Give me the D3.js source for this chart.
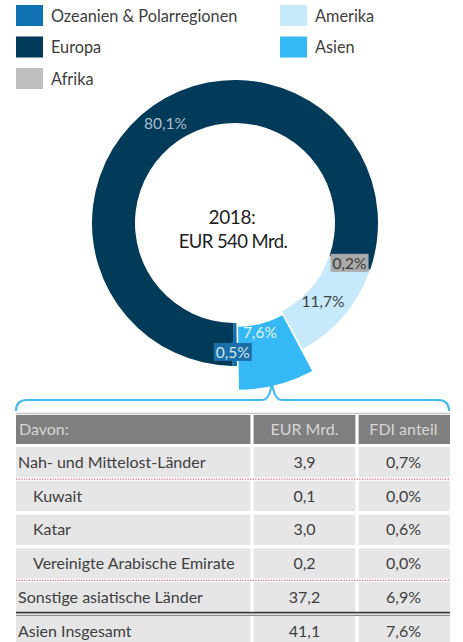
<!DOCTYPE html>
<html>
<head>
<meta charset="utf-8">
<script src="https://cdn.jsdelivr.net/npm/d3@7"></script>
<style>
  body { margin: 0; background: #fff; }
  svg { display: block; }
  text { font-family: Lato, "Open Sans", sans-serif; }
</style>
</head>
<body>
<svg id="chart" width="463" height="642"></svg>
<script>
// Regions in drawing order (clockwise) and their share of the FDI stock, in percent
const regions = ["Ozeanien & Polarregionen", "Europa", "Afrika", "Amerika", "Asien"];
const shares = [0.5, 80.1, 0.2, 11.7, 7.6];
const regionColors = ["#1071b1", "#023a5a", "#bfbfbf", "#c6e9fc", "#35b9f6"];

const totalYear = "2018:";
const totalLabel = "EUR 540 Mrd.";

// Breakdown of Asia
const tableHeader = ["Davon:", "EUR Mrd.", "FDI anteil"];
const rowNames = ["Nah- und Mittelost-Länder", "Kuwait", "Katar", "Vereinigte Arabische Emirate",
                  "Sonstige asiatische Länder", "Asien Insgesamt"];
const rowLevel = [0, 1, 1, 1, 0, 0];
const rowEur = [3.9, 0.1, 3.0, 0.2, 37.2, 41.1];
const rowShare = [0.7, 0.0, 0.6, 0.0, 6.9, 7.6];

const de = d3.formatLocale({ decimal: ",", thousands: ".", grouping: [3], currency: ["", " €"] });
const f1 = de.format(".1f");
const pct = v => f1(v) + "%";

const svg = d3.select("#chart");
const textCol = "#404040";

// ---------- legend (three rows, filled column by column) ----------
const legendX = d3.scaleOrdinal().domain([0, 1]).range([16, 280]);
const legendY = d3.scalePoint().domain([0, 1, 2]).range([5, 68]);
const legend = svg.append("g")
  .selectAll("g")
  .data(regions.map((r, i) => ({ name: r, color: regionColors[i], i })))
  .join("g")
  .attr("transform", d => `translate(${legendX(Math.floor(d.i / 3))},${legendY(d.i % 3)})`);
legend.append("rect").attr("width", 27).attr("height", 21).attr("fill", d => d.color);
legend.append("text")
  .attr("x", 35).attr("y", 11).attr("dy", "0.35em")
  .attr("fill", textCol).style("font-size", "16.3px")
  .text(d => d.name);

// ---------- brace pointing at Asia (drawn first so the slice sits on its tip) ----------
const tableLeft = 16, tableRight = 450;
const tipX = 272, braceY = 400;
svg.append("path")
  .attr("d", `M${tableLeft},${braceY + 11} Q${tableLeft},${braceY} ${tableLeft + 11},${braceY}
              L${tipX - 10},${braceY} Q${tipX - 2},${braceY} ${tipX},${braceY - 18}
              Q${tipX + 2},${braceY} ${tipX + 10},${braceY}
              L${tableRight - 12},${braceY} Q${tableRight - 1},${braceY} ${tableRight - 1},${braceY + 11}`)
  .attr("fill", "none").attr("stroke", "#42b7f0").attr("stroke-width", 2.2);

// ---------- donut ----------
const cx = 235, cy = 223, rOuter = 143, rInner = 100;
// the highlighted slice is pulled out and drawn with a wider ring
const focus = "Asien", focusInner = 97, focusOuter = 160, explode = 7;
const startDeg = 179.2;
const pie = d3.pie().sort(null).value(d => d.v)
  .startAngle(startDeg * Math.PI / 180)
  .endAngle(startDeg * Math.PI / 180 + 2 * Math.PI);
const arcs = pie(regions.map((r, i) => ({ name: r, v: shares[i], color: regionColors[i] })));
const arc = d3.arc().innerRadius(rInner).outerRadius(rOuter);
const focusArc = d3.arc().innerRadius(focusInner).outerRadius(focusOuter);
const arcFor = d => d.data.name === focus ? focusArc : arc;

const offsetOf = d => {
  if (d.data.name !== focus) return [0, 0];
  const m = (d.startAngle + d.endAngle) / 2;
  return [Math.sin(m) * explode, -Math.cos(m) * explode];
};

const donut = svg.append("g").attr("transform", `translate(${cx},${cy})`);
donut.selectAll("path")
  .data(arcs)
  .join("path")
  .attr("transform", d => `translate(${offsetOf(d)})`)
  .attr("d", d => arcFor(d)(d))
  .attr("fill", d => d.data.color);

// data labels
const labelStyle = {
  "Europa":   { fill: "#aebfcd", box: null, dx: 0, dy: 0 },
  "Afrika":   { fill: "#3a3a3a", box: "#a9a9a9", dx: 0, dy: 0 },
  "Amerika":  { fill: "#404040", box: null, dx: -4, dy: -1 },
  "Asien":    { fill: "#e3f5ff", box: null, dx: -9, dy: -22 },
  "Ozeanien & Polarregionen": { fill: "#d2e6f3", box: "#1a6fa8", dx: -2, dy: 8 }
};
const labels = donut.selectAll("g.lbl")
  .data(arcs)
  .join("g")
  .attr("class", "lbl")
  .attr("transform", d => {
    const c = arcFor(d).centroid(d), o = offsetOf(d), s = labelStyle[d.data.name];
    return `translate(${c[0] + o[0] + s.dx},${c[1] + o[1] + s.dy})`;
  });
labels.each(function (d) {
  const g = d3.select(this), s = labelStyle[d.data.name];
  const t = g.append("text")
    .attr("text-anchor", "middle").attr("dy", "0.35em")
    .attr("fill", s.fill).style("font-size", "15.5px")
    .text(pct(d.data.v));
  if (s.box) {
    const b = t.node().getBBox();
    g.insert("rect", "text")
      .attr("x", b.x - 2).attr("y", b.y)
      .attr("width", b.width + 4).attr("height", b.height)
      .attr("fill", s.box);
  }
});

// total in the hole
donut.append("text").attr("text-anchor", "middle").attr("x", -3).attr("y", 1)
  .attr("fill", "#1e1e1e").style("font-size", "19px").style("letter-spacing", "-0.4px")
  .text(totalYear);
donut.append("text").attr("text-anchor", "middle").attr("x", -2).attr("y", 24.5)
  .attr("fill", "#1e1e1e").style("font-size", "18.5px").style("letter-spacing", "-0.6px")
  .text(totalLabel);

// ---------- table ----------
const colEdges = [tableLeft, 252, 357, tableRight];
const gap = 3.2;
const rowBand = d3.scaleBand().domain(d3.range(rowNames.length)).range([447, 447 + 6 * 33.2]).paddingInner(0.1);
const table = svg.append("g");

// header
table.append("line").attr("x1", tableLeft).attr("x2", tableRight).attr("y1", 413.5).attr("y2", 413.5)
  .attr("stroke", "#c4c4c4").attr("stroke-width", 1.5);
const headerTop = 415, headerH = 29;
tableHeader.forEach((h, c) => {
  const x0 = colEdges[c] + (c ? gap / 2 : 0), x1 = colEdges[c + 1] - (c < 2 ? gap / 2 : 0);
  table.append("rect").attr("x", x0).attr("y", headerTop).attr("width", x1 - x0).attr("height", headerH)
    .attr("fill", "#7f7f7f");
  table.append("text")
    .attr("x", c === 0 ? tableLeft + 3 : (colEdges[c] + colEdges[c + 1]) / 2)
    .attr("y", headerTop + headerH / 2).attr("dy", "0.35em")
    .attr("text-anchor", c === 0 ? "start" : "middle")
    .attr("fill", "#d6d6d6").style("font-size", "16px")
    .text(h);
});

// body rows
rowNames.forEach((name, i) => {
  const y = rowBand(i), h = rowBand.bandwidth();
  const cells = [name, f1(rowEur[i]), pct(rowShare[i])];
  cells.forEach((v, c) => {
    const x0 = colEdges[c] + (c ? gap / 2 : 0), x1 = colEdges[c + 1] - (c < 2 ? gap / 2 : 0);
    table.append("rect").attr("x", x0).attr("y", y).attr("width", x1 - x0).attr("height", h)
      .attr("fill", "#e6e6e6");
    table.append("text")
      .attr("x", c === 0 ? tableLeft + 2 + rowLevel[i] * 15 : (colEdges[c] + colEdges[c + 1]) / 2)
      .attr("y", y + h / 2).attr("dy", "0.35em")
      .attr("text-anchor", c === 0 ? "start" : "middle")
      .attr("fill", textCol).style("font-size", "16px")
      .text(v);
  });
});

// separators: dotted red under the Middle East group, double rule above the total
const between = i => (rowBand(i) + rowBand.bandwidth() + rowBand(i + 1)) / 2;
[0, 3].forEach(i => {
  table.append("line").attr("x1", tableLeft).attr("x2", tableRight)
    .attr("y1", between(i)).attr("y2", between(i))
    .attr("stroke", "#e2707a").attr("stroke-width", 1.3).attr("stroke-dasharray", "1.3,1.3");
});
const ty = between(4);
table.append("line").attr("x1", tableLeft).attr("x2", tableRight).attr("y1", ty - 1.5).attr("y2", ty - 1.5)
  .attr("stroke", "#3c3c3c").attr("stroke-width", 1.6);
table.append("line").attr("x1", tableLeft).attr("x2", tableRight).attr("y1", ty + 1.2).attr("y2", ty + 1.2)
  .attr("stroke", "#8a8a8a").attr("stroke-width", 1.2);
</script>
</body>
</html>
